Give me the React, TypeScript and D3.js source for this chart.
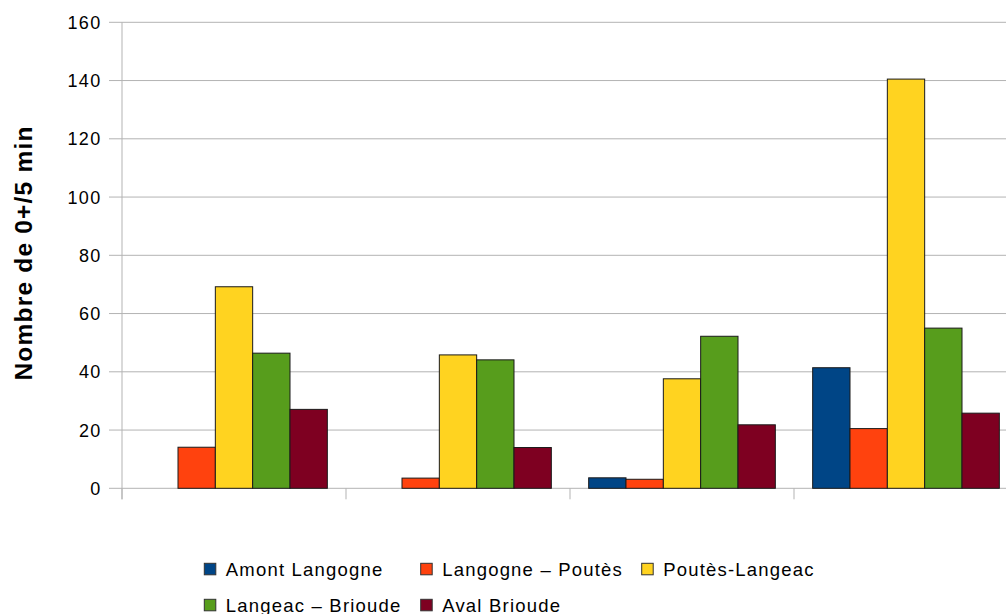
import React from "react";
import * as d3 from "d3";

const categories = ["G1", "G2", "G3", "G4"];
const seriesNames = [
  "Amont Langogne",
  "Langogne – Poutès",
  "Poutès-Langeac",
  "Langeac – Brioude",
  "Aval Brioude",
];
const amontLangogne = [0, 0, 3.6, 41.4];
const langognePoutes = [14.1, 3.5, 3.1, 20.5];
const poutesLangeac = [69.2, 45.8, 37.6, 140.5];
const langeacBrioude = [46.4, 44.1, 52.2, 55];
const avalBrioude = [27.1, 14, 21.8, 25.8];
const seriesValues = [amontLangogne, langognePoutes, poutesLangeac, langeacBrioude, avalBrioude];
const seriesColors = ["#004586", "#ff420e", "#ffd320", "#579d1c", "#7e0021"];
const yTicks = [0, 20, 40, 60, 80, 100, 120, 140, 160];

const W = 1006;
const H = 614;
const plotLeft = 122;
const plotRight = 1018;
const plotTop = 22.3;
const plotBottom = 488.3;
const font = "'Liberation Sans', Arial, sans-serif";

export default function App() {
  const x0 = d3
    .scaleBand<string>()
    .domain(categories)
    .range([plotLeft, plotRight])
    .paddingInner(1 / 6)
    .paddingOuter(1 / 12);
  const x1 = d3
    .scaleBand<string>()
    .domain(seriesNames)
    .range([0, x0.bandwidth()]);
  const y = d3.scaleLinear().domain([0, 160]).range([plotBottom, plotTop]);
  const step = x0.step();
  const catTicks = categories.map((c) => (x0(c) as number) - (step * 1) / 12).concat([plotRight]);

  const legendCols = [204.3, 420.7, 641.7];
  const legendRows = [569.3, 605.3];
  const legendItems = seriesNames.map((name, i) => ({
    name,
    color: seriesColors[i],
    x: legendCols[i < 3 ? i : i - 3],
    y: legendRows[i < 3 ? 0 : 1],
  }));

  return (
    <svg
      width={W}
      height={H}
      style={{ position: "absolute", left: 0, top: 0, background: "#fff" }}
      fontFamily={font}
    >
      <rect x={0} y={0} width={W} height={H} fill="#fff" />
      {/* grid lines */}
      {yTicks.map((t) => (
        <g key={t}>
          <line x1={plotLeft} x2={plotRight} y1={y(t)} y2={y(t)} stroke="#b3b3b3" strokeWidth={1} />
          <line x1={plotLeft - 13} x2={plotLeft} y1={y(t)} y2={y(t)} stroke="#b3b3b3" strokeWidth={1} />
          <text
            x={101.5}
            y={y(t)}
            dy="0.36em"
            textAnchor="end"
            fontSize={18}
            letterSpacing={1.3}
            fill="#000"
          >
            {t}
          </text>
        </g>
      ))}
      {/* y axis */}
      <line x1={plotLeft} x2={plotLeft} y1={plotTop} y2={plotBottom + 11} stroke="#b3b3b3" strokeWidth={1} />
      {catTicks.map((cx, i) => (
        <line key={i} x1={cx} x2={cx} y1={plotBottom} y2={plotBottom + 11} stroke="#b3b3b3" strokeWidth={1} />
      ))}
      {/* bars */}
      {categories.map((c, ci) => (
        <g key={c} transform={`translate(${x0(c)},0)`}>
          {seriesNames.map((s, si) => {
            const v = seriesValues[si][ci];
            if (!v) return null;
            return (
              <rect
                key={s}
                x={x1(s)}
                y={y(v)}
                width={x1.bandwidth()}
                height={y(0) - y(v)}
                fill={seriesColors[si]}
                stroke="#1a1a1a"
                strokeWidth={1}
              />
            );
          })}
        </g>
      ))}
      {/* y title */}
      <text
        transform={`translate(31.5,253) rotate(-90)`}
        textAnchor="middle"
        fontSize={24.5}
        fontWeight="bold"
        letterSpacing={1.2}
        fill="#000"
      >
        Nombre de 0+/5 min
      </text>
      {/* legend */}
      {legendItems.map((it) => (
        <g key={it.name}>
          <rect x={it.x} y={it.y - 6} width={11.5} height={11.5} fill={it.color} stroke="#333" strokeWidth={1} />
          <text x={it.x + 21.5} y={it.y + 6.5} fontSize={18.5} letterSpacing={1.2} fill="#000">
            {it.name}
          </text>
        </g>
      ))}
    </svg>
  );
}
